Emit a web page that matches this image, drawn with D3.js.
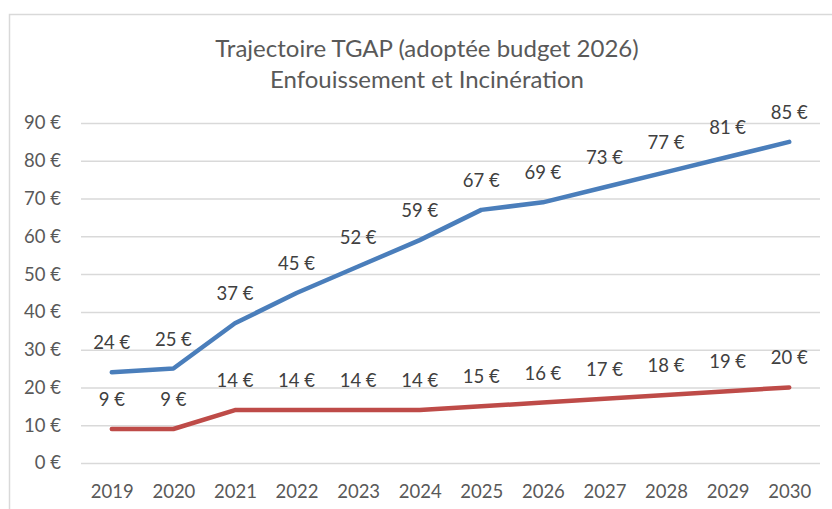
<!DOCTYPE html>
<html>
<head>
<meta charset="utf-8">
<script src="https://cdn.jsdelivr.net/npm/d3@7"></script>
<style>
  body { margin: 0; background: #fff; }
  svg text { font-family: Lato, "Open Sans", sans-serif; }
</style>
</head>
<body>
<div id="chart"></div>
<script>
// data
var years = ["2019", "2020", "2021", "2022", "2023", "2024", "2025", "2026", "2027", "2028", "2029", "2030"];
var enfouissement = [24, 25, 37, 45, 52, 59, 67, 69, 73, 77, 81, 85];
var incineration = [9, 9, 14, 14, 14, 14, 15, 16, 17, 18, 19, 20];
var yTicks = [0, 10, 20, 30, 40, 50, 60, 70, 80, 90];
var titleLines = ["Trajectoire TGAP (adoptée budget 2026)", "Enfouissement et Incinération"];

var width = 832, height = 509;

var svg = d3.select("#chart")
    .append("svg")
    .attr("width", width)
    .attr("height", height);

// outer chart frame
svg.append("rect")
    .attr("x", 9.5).attr("y", 14.5)
    .attr("width", 900).attr("height", 600)
    .attr("fill", "none")
    .attr("stroke", "#d9d9d9")
    .attr("stroke-width", 1.5);

var x = d3.scalePoint()
    .domain(years)
    .range([81, 820])
    .padding(0.5);

var y = d3.scaleLinear()
    .domain([0, 90])
    .range([463, 123]);

// gridlines + y labels
var yAxis = d3.axisLeft(y)
    .tickValues(yTicks)
    .tickSize(-(820 - 81))
    .tickPadding(20)
    .tickFormat(function (d) { return d + " €"; });

var gy = svg.append("g")
    .attr("transform", "translate(81,0)")
    .call(yAxis);
gy.select(".domain").remove();
gy.selectAll("line").attr("stroke", "#d9d9d9").attr("stroke-width", 1.5);
gy.selectAll("text").attr("fill", "#595959").style("font-size", "18.5px");

// x labels
var xAxis = d3.axisBottom(x).tickSize(0).tickPadding(22);
var gx = svg.append("g")
    .attr("transform", "translate(0,463)")
    .call(xAxis);
gx.select(".domain").remove();
gx.selectAll("text").attr("fill", "#595959").style("font-size", "18.5px");

// title
svg.append("g").selectAll("text")
    .data(titleLines)
    .enter()
    .append("text")
    .attr("x", 427)
    .attr("y", function (d, i) { return 57 + i * 31; })
    .attr("text-anchor", "middle")
    .attr("fill", "#595959")
    .style("font-size", "24px")
    .text(function (d) { return d; });

var line = d3.line()
    .x(function (d, i) { return x(years[i]); })
    .y(function (d) { return y(d); });

var series = [
    { values: enfouissement, color: "#4a7ebb" },
    { values: incineration, color: "#be4b48" }
];

series.forEach(function (s) {
    svg.append("path")
        .datum(s.values)
        .attr("d", line)
        .attr("fill", "none")
        .attr("stroke", s.color)
        .attr("stroke-width", 4.5)
        .attr("stroke-linecap", "round")
        .attr("stroke-linejoin", "round");

    svg.append("g").selectAll("text")
        .data(s.values)
        .enter()
        .append("text")
        .attr("x", function (d, i) { return x(years[i]); })
        .attr("y", function (d) { return y(d) - 23; })
        .attr("text-anchor", "middle")
        .attr("fill", "#404040")
        .style("font-size", "18.5px")
        .text(function (d) { return d + " €"; });
});
</script>
</body>
</html>
